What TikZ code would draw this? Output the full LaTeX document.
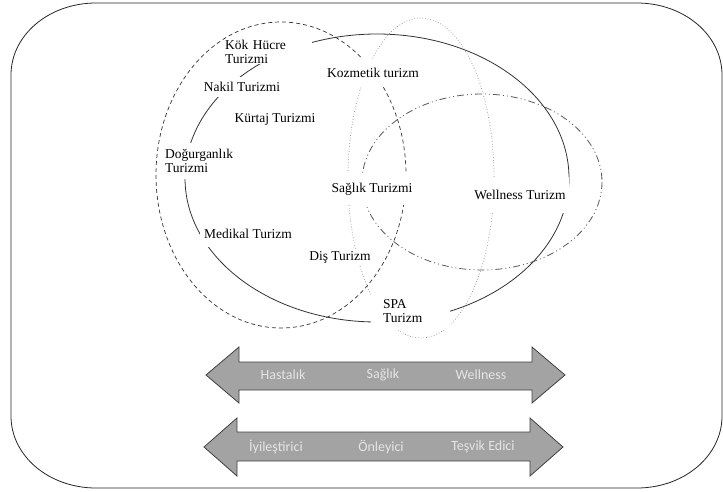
\documentclass[tikz,border=0pt]{standalone}
\usepackage{fontspec}
\setmainfont{Liberation Serif}
\newfontfamily\calibri{Carlito}
\usepackage{tikz}

\begin{document}
\begin{tikzpicture}[x=1pt, y=-1pt,
    lbl/.style={fill=white, inner xsep=2pt, inner ysep=5pt, align=left, font=\fontsize{13.5}{14.5}\selectfont},
    arrlbl/.style={text=white!90!black, font=\calibri\fontsize{14}{16}\selectfont},
    bigarrow/.style={draw=black!75, line width=0.8pt, fill=gray!72}]
    \useasboundingbox (0,0) rectangle (723,491);
    % Frame
    \draw [line width=0.8pt, black!85] (96,3) -- (637,3)
        .. controls (684,3) and (722,35) .. (722,75) -- (722,416)
        .. controls (722,456) and (684,488) .. (637,488) -- (96,488)
        .. controls (49,488) and (11,456) .. (11,416) -- (11,75)
        .. controls (11,35) and (49,3) .. (96,3) -- cycle;
    % Ellipses
    \draw [black!80, line width=0.7pt, dash pattern=on 4pt off 3pt] (281,175) ellipse [x radius=125, y radius=153];
    \draw [black!80, line width=0.8pt] (377,178) ellipse [x radius=192, y radius=144];
    \draw [gray!90, dotted, line width=0.7pt] (421,178) ellipse [x radius=73, y radius=160];
    \draw [black!65, line width=0.8pt, dash pattern=on 7pt off 3pt on 1pt off 3pt on 1pt off 3pt] (482,182) ellipse [x radius=120, y radius=88];
    % Nodes
    \node [lbl, text width=85pt, inner ysep=0pt, anchor=west] (kok) at (223,52) {Kök Hücre\\Turizmi};
    \node [lbl] (nakil) at (242,87) {Nakil Turizmi};
    \node [lbl] (kurtaj) at (275,119) {Kürtaj Turizmi};
    \node [lbl, inner ysep=9pt] (kozmetik) at (373,73) {Kozmetik turizm};
    \node [lbl, inner ysep=6pt] (dogurganlik) at (199,161) {Doğurganlık\\Turizmi};
    \node [lbl, inner ysep=10pt] (saglikt) at (372,189) {Sağlık Turizmi};
    \node [lbl, inner xsep=3pt, inner ysep=13pt] (wellnesst) at (520,195) {Wellness Turizm};
    \node [lbl, inner xsep=4pt, inner ysep=8pt] (medikal) at (248,234) {Medikal Turizm};
    \node [lbl, inner ysep=2pt] (dis) at (340,257) {Diş Turizm};
    \node [lbl, text width=55pt, inner xsep=12pt, inner ysep=7pt, anchor=west] (spa) at (371,311) {SPA\\Turizm};
    % Arrows
    \draw [bigarrow] (206,375) -- (239,347) -- (239,362) -- (532,362) -- (532,347)
        -- (565,375) -- (532,403) -- (532,390) -- (239,390) -- (239,403) -- cycle;
    \draw [bigarrow] (204,447) -- (237,418) -- (237,432) -- (530,432) -- (530,418)
        -- (563,447) -- (530,476) -- (530,461) -- (237,461) -- (237,476) -- cycle;
    \node [arrlbl] (hastalik) at (283,375) {Hastalık};
    \node [arrlbl] (saglik) at (383,375) {Sağlık};
    \node [arrlbl] (wellness) at (481,375) {Wellness};
    \node [arrlbl] (iyilestirici) at (276,447) {İyileştirici};
    \node [arrlbl] (onleyici) at (381,447) {Önleyici};
    \node [arrlbl] (tesvik) at (483,447) {Teşvik Edici};
\end{tikzpicture}
\end{document}
